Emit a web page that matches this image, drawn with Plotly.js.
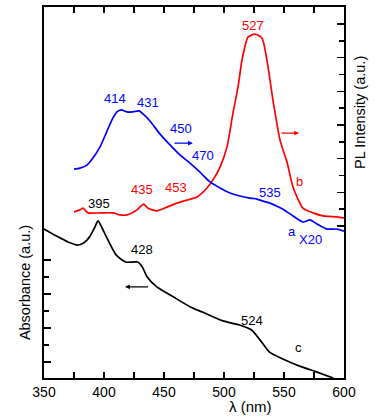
<!DOCTYPE html>
<html><head><meta charset="utf-8">
<script src="https://cdn.plot.ly/plotly-3.0.1.min.js"></script>
<style>body{margin:0;background:#fff}#chart{width:380px;height:418px}</style>
</head><body><div id="chart"></div>
<script>
// Curve c: absorbance (left axis)
const absWavelength = [350,360,370,378,383,388,392,395,398,402,410,418,424,428,432,436,444,458,472,482,499,513,523,530,538,549,563,577,591];
const absValues = [3.91,3.71,3.53,3.44,3.50,3.68,3.94,4.15,3.97,3.68,3.15,2.94,2.94,2.94,2.79,2.50,2.21,1.91,1.62,1.47,1.21,1.09,0.94,0.65,0.29,0.09,-0.12,-0.29,-0.47];
// Curve b: PL (red, right axis)
const plBWavelength = [375,380,382.5,386.7,396.7,407.5,413.3,419.2,427.5,433,436.7,444.2,452.5,460.8,469.2,477.5,485.8,490.8,496.7,502.5,507.5,511.7,515,520,525.8,531.7,536.7,540.8,546.7,552.5,557.5,565.8,574.2,582.5,594.2,600];
const plBValues = [0.42,0.48,0.53,0.39,0.39,0.39,0.33,0.33,0.48,0.65,0.53,0.45,0.56,0.68,0.77,0.86,1.13,1.37,1.75,2.35,3.36,4.13,4.93,5.61,5.70,5.58,4.72,3.74,2.55,1.90,1.16,0.53,0.39,0.30,0.27,0.24];
// Curve a: PL x20 (blue, right axis)
const plAWavelength = [375,380,385.8,390.8,396.7,402.5,407.5,410.8,414.2,419.2,424.2,429.2,432.5,438.3,446.7,455,463.3,471.7,480,488.3,496.7,505,513.3,521.7,527.5,532.5,538.3,544.2,549.2,557.5,565.8,571.7,577.5,585.8,594.2,600];
const plAValues = [1.69,1.72,1.81,2.02,2.35,2.82,3.21,3.39,3.45,3.39,3.39,3.42,3.33,3.12,2.73,2.41,2.11,1.87,1.60,1.31,1.13,0.98,0.89,0.83,0.80,0.74,0.68,0.59,0.50,0.30,0.12,0.18,0.06,-0.09,-0.09,-0.15];

const absTicks = [0,1,2,3];
const absMinor = [0.5,1.5,2.5];
const plTicks = [0,1,2,3,4,5,6];
const plMinor = [0.5,1.5,2.5,3.5,4.5,5.5];
const xTicks = [350,400,450,500,550,600];

const FONT = 'Liberation Sans, Arial, sans-serif';
const traces = [
  {x: absWavelength, y: absValues, mode:'lines', line:{color:'#000000', width:1.7, shape:'spline', smoothing:0.6}, yaxis:'y', showlegend:false},
  {x: plBWavelength, y: plBValues, mode:'lines', line:{color:'#ff0000', width:1.7, shape:'spline', smoothing:0.6}, yaxis:'y2', showlegend:false},
  {x: plAWavelength, y: plAValues, mode:'lines', line:{color:'#0000ff', width:1.7, shape:'spline', smoothing:0.6}, yaxis:'y2', showlegend:false}
];

function lab(text, x, y, yref, color){
  return {text:text, x:x, y:y, xref:'x', yref:yref, showarrow:false, font:{family:FONT, size:13, color:color}, xanchor:'center', yanchor:'middle'};
}
function arr(x0, x1, y, yref, color){
  return {x:x1, y:y, ax:x0, ay:y, xref:'x', yref:yref, axref:'x', ayref:yref, text:'', showarrow:true, arrowhead:2, arrowsize:0.8, arrowwidth:1.2, arrowcolor:color};
}

const annotations = [
  lab('527', 524, 5.97, 'y2', '#ff0000'),
  lab('414', 409, 3.80, 'y2', '#0000ff'),
  lab('431', 436.7, 3.68, 'y2', '#0000ff'),
  lab('450', 464, 2.91, 'y2', '#0000ff'),
  lab('470', 482.5, 2.08, 'y2', '#0000ff'),
  lab('535', 538, 1.01, 'y2', '#0000ff'),
  lab('a', 556.7, -0.15, 'y2', '#0000ff'),
  lab('X20', 571.7, -0.39, 'y2', '#0000ff'),
  lab('b', 562.5, 1.31, 'y2', '#ff0000'),
  lab('435', 431.7, 1.07, 'y2', '#ff0000'),
  lab('453', 460, 1.13, 'y2', '#ff0000'),
  lab('395', 395.8, 4.65, 'y', '#000000'),
  lab('428', 431.7, 3.32, 'y', '#000000'),
  lab('524', 523.3, 1.21, 'y', '#000000'),
  lab('c', 561.7, 0.44, 'y', '#000000'),
  arr(457.5, 474, 2.46, 'y2', '#0000ff'),
  arr(546.7, 562.5, 2.76, 'y2', '#ff0000'),
  arr(438, 417.5, 2.21, 'y', '#000000'),
  {text:'λ (nm)', x:0.687, y:-0.078, xref:'paper', yref:'paper', showarrow:false, font:{family:FONT, size:15, color:'#000'}, xanchor:'center', yanchor:'middle'},
  {text:'Absorbance (a.u.)', x:-0.063, y:0.256, xref:'paper', yref:'paper', showarrow:false, textangle:-90, font:{family:FONT, size:14.5, color:'#000'}, xanchor:'center', yanchor:'middle'},
  {text:'PL Intensity (a.u.)', x:1.053, y:0.717, xref:'paper', yref:'paper', showarrow:false, textangle:-90, font:{family:FONT, size:14.5, color:'#000'}, xanchor:'center', yanchor:'middle'}
];

const layout = {
  width:380, height:418,
  margin:{l:44, r:36, t:7, b:40},
  paper_bgcolor:'#fff', plot_bgcolor:'#fff',
  font:{family:FONT, color:'#000'},
  xaxis:{range:[350,600], tickvals:xTicks, ticks:'inside', ticklen:6, tickwidth:1.5, tickcolor:'#000',
    showline:true, linecolor:'#000', linewidth:2, mirror:'allticks', showgrid:false, zeroline:false,
    tickfont:{family:FONT, size:14, color:'#000'},
    minor:{dtick:25, tick0:350, ticks:'inside', ticklen:4, tickwidth:1.5, tickcolor:'#000', showgrid:false}},
  yaxis:{range:[-0.47,10.44], tickvals:absTicks, showticklabels:false, ticks:'inside', ticklen:7, tickwidth:1.5, tickcolor:'#000',
    showline:true, linecolor:'#000', linewidth:2, showgrid:false, zeroline:false,
    minor:{tickvals:absMinor, ticks:'inside', ticklen:5, tickwidth:1.5, tickcolor:'#000', showgrid:false}},
  yaxis2:{range:[-4.514,6.505], overlaying:'y', side:'right', tickvals:plTicks, showticklabels:false, ticks:'inside', ticklen:7, tickwidth:1.5, tickcolor:'#000',
    showline:true, linecolor:'#000', linewidth:2, showgrid:false, zeroline:false,
    minor:{tickvals:plMinor, ticks:'inside', ticklen:5, tickwidth:1.5, tickcolor:'#000', showgrid:false}},
  annotations:annotations
};
Plotly.newPlot('chart', traces, layout, {staticPlot:true, displayModeBar:false});
</script></body></html>
